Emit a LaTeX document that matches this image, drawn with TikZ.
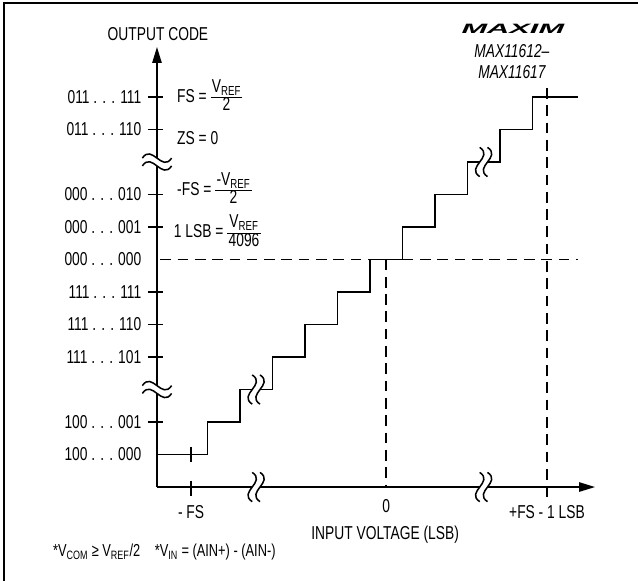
\documentclass[tikz,border=0pt]{standalone}
\usepackage{amsmath}
\usepackage{fontspec}
\setmainfont{Liberation Sans}[FakeStretch=0.74]
\usetikzlibrary{positioning, arrows.meta}

\newcommand{\vref}{V\textsubscript{REF}}
\newcommand{\codefrac}[2]{{\renewcommand{\arraystretch}{0.78}\setlength{\tabcolsep}{1pt}%
    \begin{tabular}{c}#1\\\hline #2\end{tabular}}}

\tikzset{
    axisbreak/.pic={
        \fill[white] (-0.45,-0.12) .. controls (-0.15,0.33) and (0.15,-0.57) .. (0.45,-0.12)
            -- (0.45,0.12) .. controls (0.15,-0.33) and (-0.15,0.57) .. (-0.45,0.12) -- cycle;
        \draw (-0.45,0.12) .. controls (-0.15,0.57) and (0.15,-0.33) .. (0.45,0.12);
        \draw (-0.45,-0.12) .. controls (-0.15,0.33) and (0.15,-0.57) .. (0.45,-0.12);
    }
}

\begin{document}
\begin{tikzpicture}[x=0.8573cm, y=0.8573cm, line width=1.15pt, font=\fontsize{14pt}{16pt}\selectfont]
        % Define styles for lines and labels
        \tikzstyle{axis} = [line width=1.2pt, -{Triangle[length=12pt, width=7pt]}]
        \tikzstyle{guide} = [dash pattern=on 8pt off 5pt]
        \tikzstyle{code} = [anchor=east, inner sep=0pt]
        \tikzstyle{note} = [anchor=west, inner sep=0pt]
        \tikzstyle{footnote} = [note, font=\fontsize{13pt}{15pt}\selectfont]

        \useasboundingbox (-4.83,-2.89) rectangle (14.8,14.985);
        % Frame (top and left edge only)
        \draw[line width=1.6pt] (14.8,14.89) -- (-4.71,14.89) -- (-4.71,-2.89);

        % Axes
        \coordinate (O) at (0,0);
        \coordinate (ytip) at (0,13.54);
        \coordinate (xtip) at (13.48,0);
        \draw[axis] (O) -- (ytip);
        \draw[axis] (O) -- (xtip);
        \node (ylabel) at (0.03,13.95) {OUTPUT CODE};
        \node (xlabel) at (7.02,-1.48) {INPUT VOLTAGE (LSB)};

        % Ticks on the code axis
        \draw (-0.28,12) -- (0.2,12);
        \draw (-0.28,11) -- (0.2,11);
        \draw (-0.28,9) -- (0.2,9);
        \draw (-0.28,8) -- (0.2,8);
        \draw (-0.28,6) -- (0.2,6);
        \draw (-0.28,5) -- (0.2,5);
        \draw (-0.28,4) -- (0.2,4);
        \draw (-0.28,2) -- (0.2,2);

        % Output codes
        \node[code] (c12) at (-0.46,12) {011 . . . 111};
        \node[code] (c11) at (-0.46,11) {011 . . . 110};
        \node[code] (c9) at (-0.46,9) {000 . . . 010};
        \node[code] (c8) at (-0.46,8) {000 . . . 001};
        \node[code] (c7) at (-0.46,7) {000 . . . 000};
        \node[code] (c6) at (-0.46,6) {111 . . . 111};
        \node[code] (c5) at (-0.46,5) {111 . . . 110};
        \node[code] (c4) at (-0.46,4) {111 . . . 101};
        \node[code] (c2) at (-0.46,2) {100 . . . 001};
        \node[code] (c1) at (-0.46,1) {100 . . . 000};

        % Equations
        \node[note] (fs) at (0.6,11.98) {FS =\ \codefrac{\vref}{2}};
        \node[note] (zs) at (0.6,10.74) {ZS = 0};
        \node[note] (mfs) at (0.6,9.12) {-FS =\ \codefrac{-\vref}{2}};
        \node[note] (lsb) at (0.5,7.82) {1 LSB = \codefrac{\vref}{4096}};

        % Dashed guides
        \draw[guide] (0.1,7) -- (12.95,7);
        \draw[guide] (7.05,7) -- (7.05,0);
        \draw[guide] (12,12.28) -- (12,-0.3);

        % Transfer function
        \draw (0,1) -| (1.55,2) -| (2.55,3) -| (3.55,4) -| (4.55,5) -| (5.55,6)
            -| (6.55,7) -| (7.55,8) -| (8.55,9) -| (9.55,10) -| (10.55,11)
            -| (11.55,12) -- (12.95,12);
        \draw (1.05,1.22) -- (1.05,0.77);
        \draw (1.05,0.2) -- (1.05,-0.28);

        % Breaks
        \pic at (0,3) {axisbreak};
        \pic at (0,10) {axisbreak};
        \pic[rotate=90] at (3.05,0) {axisbreak};
        \pic[rotate=90] at (10.05,0) {axisbreak};
        \pic[rotate=90] at (3.05,3) {axisbreak};
        \pic[rotate=90] at (10.05,10) {axisbreak};

        % Input voltage labels
        \node (mfsx) at (1.05,-0.77) {- FS};
        \node (zero) at (7.05,-0.6) {0};
        \node (fsx) at (12,-0.77) {+FS - 1 LSB};

        % Part names
        \node (logo) at (10.95,14.1) {\resizebox{77pt}{7pt}{\bfseries\itshape MAXIM}};
        \node (part1) at (10.92,13.42) {\itshape MAX11612–};
        \node (part2) at (10.92,12.77) {\itshape MAX11617};

        % Footnotes
        \node[footnote] (ncom) at (-3.22,-2.0) {*V\textsubscript{COM} ≥ \vref/2};
        \node[footnote] (nin) at (-0.09,-2.0) {*V\textsubscript{IN} = (AIN+) - (AIN-)};
    \end{tikzpicture}
\end{document}
